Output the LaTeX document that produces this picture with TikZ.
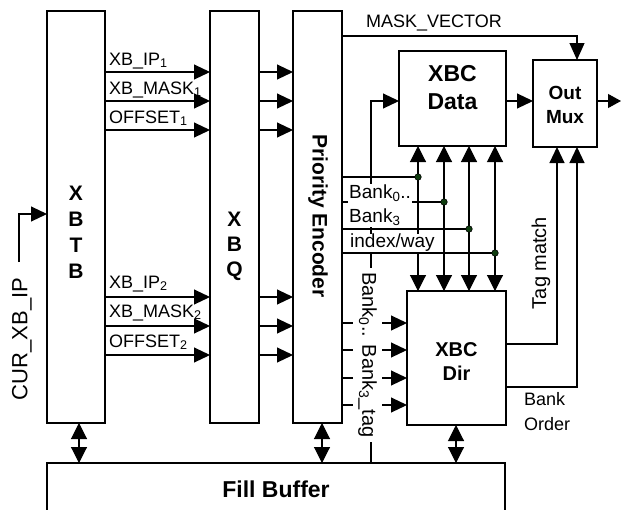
\documentclass[tikz,border=0pt]{standalone}
\usepackage{fontspec}
\setmainfont{Liberation Sans}
\usetikzlibrary{arrows.meta}
\definecolor{dotgreen}{HTML}{0F3D0F}
\begin{document}
\begin{tikzpicture}[x=1pt,y=-1pt,
 box/.style={draw,line width=2.7pt,outer sep=0pt,inner sep=0pt,rectangle},
 conn/.style={line width=1.1pt},
 arr/.style={conn,-{Triangle[length=16pt,width=15pt]}},
 darr/.style={conn,{Triangle[length=16pt,width=16pt]}-{Triangle[length=16pt,width=16pt]}},
 lbl/.style={font=\fontsize{18}{21}\selectfont,inner sep=0pt},
 ttl/.style={align=center,inner sep=0pt},
 dotnode/.style={circle,fill=dotgreen,draw=black,line width=0.6pt,minimum size=6.5pt,inner sep=0pt}]
\useasboundingbox (0,0) rectangle (621,509);
\clip (0,0) rectangle (621,509);

% boxes
\node[box,minimum width=58pt,minimum height=412pt] (xbtb) at (76,217) {};
\node[box,minimum width=49pt,minimum height=412pt] (xbq) at (234.5,217) {};
\node[box,minimum width=49pt,minimum height=412pt] (pe) at (317.5,217) {};
\node[box,minimum width=107pt,minimum height=95pt] (data) at (452.5,98.5) {};
\node[box,minimum width=64pt,minimum height=87pt] (mux) at (565,103.5) {};
\node[box,minimum width=99pt,minimum height=134pt] (dir) at (456.5,358) {};
\node[box,minimum width=458pt,minimum height=80pt] (fb) at (276,503) {};

% titles
\node[ttl,font=\bfseries\fontsize{21}{26}\selectfont] (xbtbt) at (76,232) {X\\B\\T\\B};
\node[ttl,font=\bfseries\fontsize{21}{25}\selectfont] (xbqt) at (234.5,246) {X\\B\\Q};
\node[ttl,font=\bfseries\fontsize{21}{25}\selectfont,rotate=-90] (pet) at (318,216) {Priority Encoder};
\node[ttl,font=\bfseries\fontsize{23}{28}\selectfont] (datat) at (452.5,88) {XBC\\Data};
\node[ttl,font=\bfseries\fontsize{19}{24}\selectfont] (muxt) at (565,105) {Out\\Mux};
\node[ttl,font=\bfseries\fontsize{20}{24}\selectfont] (dirt) at (456.5,362) {XBC\\Dir};
\node[ttl,font=\bfseries\fontsize{23}{28}\selectfont] (fbt) at (276,489) {Fill Buffer};

% XBTB -> XBQ -> PE
\foreach \yy in {72,101,130,297,326,355} {
  \draw[arr] (xbtb.east |- 0,\yy) -- (xbq.west |- 0,\yy);
  \draw[arr] (xbq.east |- 0,\yy) -- (pe.west |- 0,\yy);
}
\node[lbl,anchor=base west] (ip1) at (109,65) {XB\_IP\textsubscript{1}};
\node[lbl,anchor=base west] (mask1) at (109,94) {XB\_MASK\textsubscript{1}};
\node[lbl,anchor=base west] (off1) at (109,123) {OFFSET\textsubscript{1}};
\node[lbl,anchor=base west] (ip2) at (109,288) {XB\_IP\textsubscript{2}};
\node[lbl,anchor=base west] (mask2) at (109,317) {XB\_MASK\textsubscript{2}};
\node[lbl,anchor=base west] (off2) at (109,347) {OFFSET\textsubscript{2}};

% CUR_XB_IP
\node[font=\fontsize{22}{26}\selectfont,rotate=90,inner sep=0pt] (cur) at (22,339) {CUR\_XB\_IP};
\coordinate (c1) at (19,262);
\coordinate (c2) at (19,214);
\draw[arr] (c1) -- (c2) -- (xbtb.west |- c2);

% MASK_VECTOR
\coordinate (mv) at (577,36);
\draw[conn,-{Triangle[length=17pt,width=15pt]}] (pe.east |- mv) -- (mv) -- (mux.north -| mv);
\node[lbl] (mvl) at (434,23) {MASK\_VECTOR};

% Data -> Mux -> out
\draw[arr] (data.east |- 0,101) -- (mux.west |- 0,101);
\coordinate (out) at (621,101);
\draw[conn,-{Triangle[length=13pt,width=14pt]}] (mux.east |- out) -- (out);

% bank line to Data
\coordinate (bk) at (371,101);
\draw[arr] (fb.north -| bk) -- (bk) -- (data.west |- bk);

% horizontal lines from PE
\draw[conn] (pe.east |- 0,177) -- (418,177);
\draw[conn] (pe.east |- 0,202) -- (444,202);
\draw[conn] (pe.east |- 0,229) -- (469,229);
\draw[conn] (pe.east |- 0,253) -- (495,253);

\node[lbl,font=\fontsize{19}{24}\selectfont,fill=white,inner sep=1pt,align=left,anchor=west] (bk03) at (348,205.5) {Bank\textsubscript{0}..\\Bank\textsubscript{3}};

% vertical double arrows Data <-> Dir
\foreach \xx in {418,444,469,495} {
  \draw[darr] (data.south -| \xx,0) -- (dir.north -| \xx,0);
}
\node[dotnode] (d0) at (418,177) {};
\node[dotnode] (d1) at (444,202) {};
\node[dotnode] (d2) at (469,229) {};
\node[dotnode] (d3) at (495,253) {};

\node[lbl,font=\fontsize{19}{23}\selectfont,fill=white,inner sep=0pt,anchor=west] (iw) at (350,243) {index/way};

% PE -> Dir tag lines
\foreach \yy in {323,350,378,405} {
  \draw[arr] (pe.east |- 0,\yy) -- (dir.west |- 0,\yy);
}
\node[lbl,font=\fontsize{20}{24}\selectfont,rotate=-90,fill=white,inner xsep=4pt,inner ysep=0pt,minimum height=29pt] (bktag) at (367.5,355) {Bank\textsubscript{0}.. Bank\textsubscript{3}\_tag};

% Dir -> Mux
\coordinate (tm) at (557,344);
\coordinate (bo) at (577,387);
\draw[arr] (dir.east |- tm) -- (tm) -- (mux.south -| tm);
\draw[arr] (dir.east |- bo) -- (bo) -- (mux.south -| bo);
\node[lbl,font=\fontsize{20}{24}\selectfont,rotate=90] (tml) at (541,263) {Tag match};
\node[lbl,align=left,anchor=north west,font=\fontsize{18}{25}\selectfont] (bol) at (524,392) {Bank\\Order};

% to Fill Buffer
\draw[darr] (xbtb.south -| 79,0) -- (fb.north -| 79,0);
\draw[darr] (pe.south -| 322,0) -- (fb.north -| 322,0);
\draw[darr] (dir.south -| 456,0) -- (fb.north -| 456,0);
\end{tikzpicture}
\end{document}
